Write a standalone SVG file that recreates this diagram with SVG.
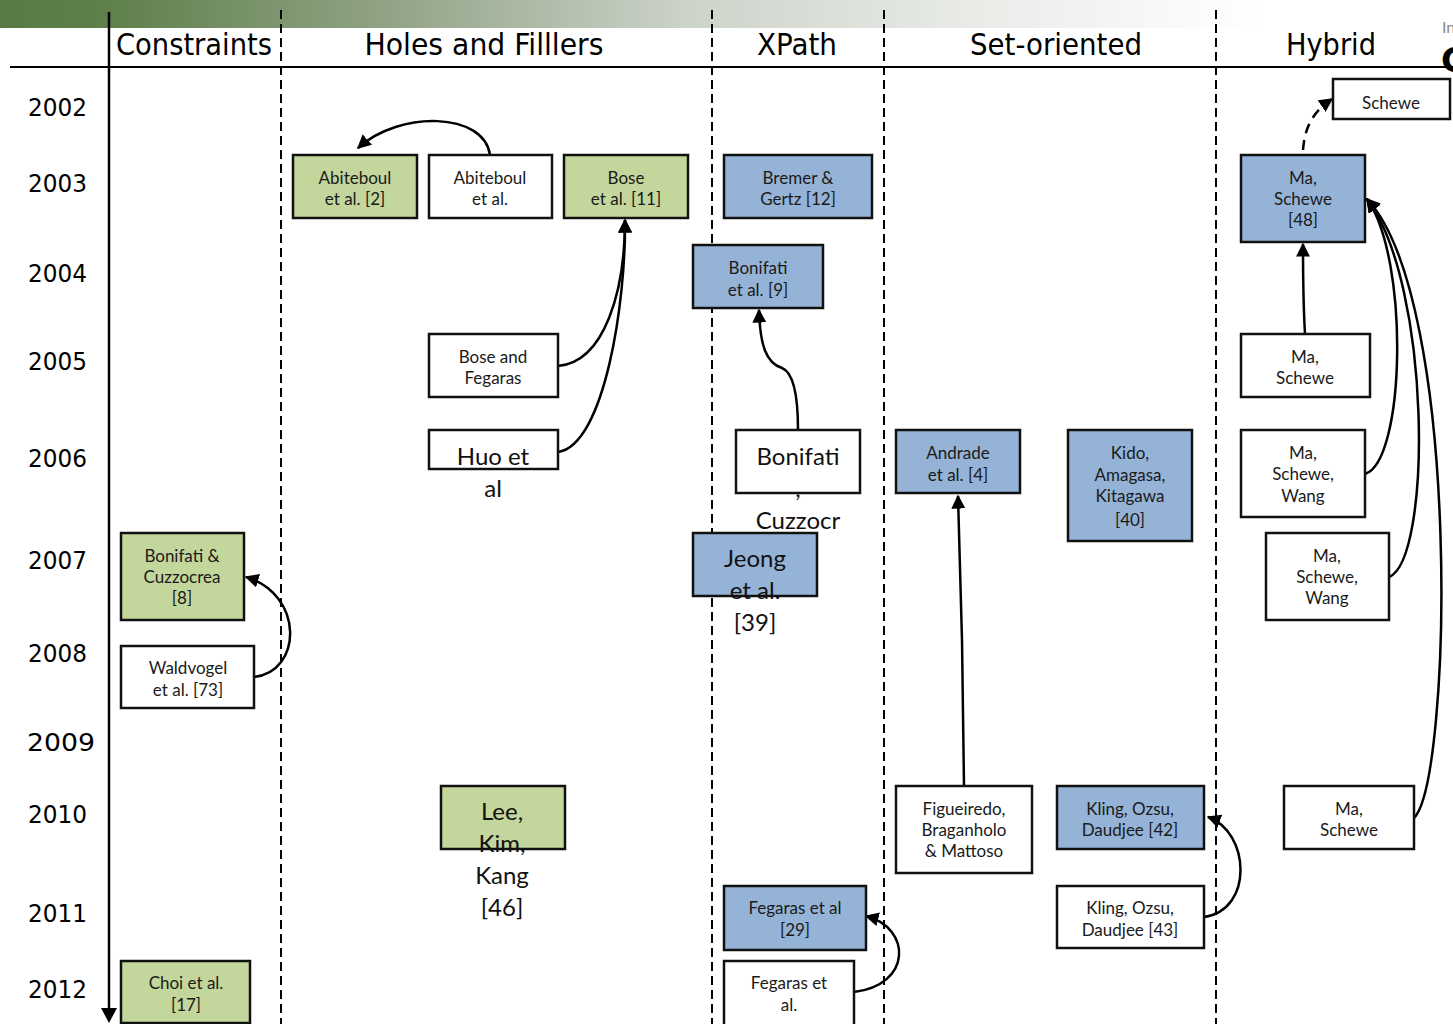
<svg xmlns="http://www.w3.org/2000/svg" width="1453" height="1024" viewBox="0 0 1453 1024">
<defs>
<linearGradient id="bar" x1="0" y1="0" x2="1" y2="0">
<stop offset="0" stop-color="#587a42"/>
<stop offset="0.08" stop-color="#5e7f4a"/>
<stop offset="0.3" stop-color="#8fa284"/>
<stop offset="0.55" stop-color="#cdd4ca"/>
<stop offset="0.8" stop-color="#eceeeb"/>
<stop offset="1" stop-color="#ffffff"/>
</linearGradient>
<marker id="ah" viewBox="0 0 10 10" refX="9" refY="5" markerWidth="14" markerHeight="14" markerUnits="userSpaceOnUse" orient="auto">
<path d="M0,0 L10,5 L0,10 z" fill="#000"/>
</marker>
</defs>
<style>
.box{stroke:#111;stroke-width:2.5}
.g{fill:#c3d69b}
.b{fill:#95b3d7}
.w{fill:#ffffff}
.t{font-family:Lato,"Liberation Sans",sans-serif;font-size:17px;fill:#1a1a1a;text-anchor:middle}
.L{font-family:Lato,"Liberation Sans",sans-serif;font-size:24px;fill:#111;text-anchor:middle}
.hd{font-family:"DejaVu Sans Condensed","DejaVu Sans",sans-serif;font-size:30px;fill:#000;text-anchor:middle}
.yr{font-family:"DejaVu Sans","Liberation Sans",sans-serif;font-size:24px;fill:#000}
.dash{stroke:#000;stroke-width:2;stroke-dasharray:9,5;fill:none}
.c{fill:none;stroke:#000;stroke-width:2.5;marker-end:url(#ah)}
</style>
<rect width="1453" height="1024" fill="#fff"/>
<rect x="0" y="0" width="1260" height="28" fill="url(#bar)"/>

<g id="grid">
<line x1="10" y1="67" x2="1453" y2="67" stroke="#000" stroke-width="2"/>
<line x1="281" y1="10" x2="281" y2="1024" class="dash"/>
<line x1="712" y1="10" x2="712" y2="1024" class="dash"/>
<line x1="884" y1="10" x2="884" y2="1024" class="dash"/>
<line x1="1216" y1="10" x2="1216" y2="1024" class="dash"/>
<line x1="109" y1="12" x2="109" y2="1010" stroke="#000" stroke-width="2.5"/>
<path d="M101,1008 L117,1008 L109,1023 z" fill="#000"/>
</g>

<g id="headers">
<text class="hd" x="194" y="55" textLength="156" lengthAdjust="spacingAndGlyphs">Constraints</text>
<text class="hd" x="484" y="55" textLength="239" lengthAdjust="spacingAndGlyphs">Holes and Filllers</text>
<text class="hd" x="797" y="55" textLength="80" lengthAdjust="spacingAndGlyphs">XPath</text>
<text class="hd" x="1056" y="55" textLength="172" lengthAdjust="spacingAndGlyphs">Set-oriented</text>
<text class="hd" x="1331" y="55" textLength="90" lengthAdjust="spacingAndGlyphs">Hybrid</text>
<text x="1442" y="33" font-family="Lato,'Liberation Sans',sans-serif" font-size="16" fill="#8a8a8a">In</text>
<text x="1441" y="72" font-family="'DejaVu Sans',sans-serif" font-size="34" font-weight="bold" fill="#000">C</text>
</g>

<g id="years">
<text class="yr" x="28" y="116" textLength="59" lengthAdjust="spacingAndGlyphs">2002</text>
<text class="yr" x="28" y="192" textLength="59" lengthAdjust="spacingAndGlyphs">2003</text>
<text class="yr" x="28" y="282" textLength="59" lengthAdjust="spacingAndGlyphs">2004</text>
<text class="yr" x="28" y="370" textLength="59" lengthAdjust="spacingAndGlyphs">2005</text>
<text class="yr" x="28" y="467" textLength="59" lengthAdjust="spacingAndGlyphs">2006</text>
<text class="yr" x="28" y="569" textLength="59" lengthAdjust="spacingAndGlyphs">2007</text>
<text class="yr" x="28" y="662" textLength="59" lengthAdjust="spacingAndGlyphs">2008</text>
<text class="yr" x="27" y="751" font-size="28" textLength="68" lengthAdjust="spacingAndGlyphs">2009</text>
<text class="yr" x="28" y="823" textLength="59" lengthAdjust="spacingAndGlyphs">2010</text>
<text class="yr" x="28" y="922" textLength="59" lengthAdjust="spacingAndGlyphs">2011</text>
<text class="yr" x="28" y="998" textLength="59" lengthAdjust="spacingAndGlyphs">2012</text>
</g>

<g id="connectors">
<path class="c" d="M490,155 C484,112 400,110 358,148"/>
<path class="c" d="M558,366 C605,362 625,290 625,220"/>
<path class="c" d="M558,452 C605,445 626,300 625,220"/>
<path class="c" d="M798,430 C798,392 792,372 782,368 C766,363 760,345 759,310"/>
<path class="c" d="M964,786 L962,640 L958,496"/>
<path class="c" d="M254,677 C302,672 305,595 246,577"/>
<path class="c" d="M854,992 C912,985 912,928 866,916"/>
<path class="c" d="M1204,917 C1254,910 1250,832 1208,817"/>
<path class="c" d="M1305,334 C1303,300 1303,280 1303,244"/>
<path class="c" d="M1303,150 C1305,126 1313,112 1332,99" stroke-dasharray="10,7"/>
<path class="c" d="M1365,474 C1405,462 1410,260 1367,199"/>
<path class="c" d="M1389,577 C1432,560 1432,285 1367,199"/>
<path class="c" d="M1414,818 C1452,780 1462,300 1367,199"/>
</g>

<g id="n_bonifati_cuzzocrea"><rect class="box g" x="121" y="533" width="123" height="87"/>
<text class="t" x="182" y="562">Bonifati &amp;</text><text class="t" x="182" y="583">Cuzzocrea</text><text class="t" x="182" y="604">[8]</text></g>
<g id="n_waldvogel"><rect class="box w" x="121" y="646" width="133" height="62"/>
<text class="t" x="188" y="674">Waldvogel</text><text class="t" x="188" y="696">et al. [73]</text></g>
<g id="n_choi"><rect class="box g" x="121" y="961" width="129" height="62"/>
<text class="t" x="186" y="989">Choi et al.</text><text class="t" x="186" y="1011">[17]</text></g>

<g id="n_abiteboul2"><rect class="box g" x="293" y="155" width="124" height="63"/>
<text class="t" x="355" y="184">Abiteboul</text><text class="t" x="355" y="205">et al. [2]</text></g>
<g id="n_abiteboul"><rect class="box w" x="429" y="155" width="123" height="63"/>
<text class="t" x="490" y="184">Abiteboul</text><text class="t" x="490" y="205">et al.</text></g>
<g id="n_bose11"><rect class="box g" x="564" y="155" width="124" height="63"/>
<text class="t" x="626" y="184">Bose</text><text class="t" x="626" y="205">et al. [11]</text></g>
<g id="n_bose_fegaras"><rect class="box w" x="429" y="334" width="129" height="63"/>
<text class="t" x="493" y="363">Bose and</text><text class="t" x="493" y="384">Fegaras</text></g>
<g id="n_huo"><rect class="box w" x="429" y="430" width="129" height="39"/>
<text class="L" x="493" y="465">Huo et</text><text class="L" x="493" y="497">al</text></g>
<g id="n_lee"><rect class="box g" x="441" y="786" width="124" height="63"/>
<text class="L" x="502" y="820">Lee,</text><text class="L" x="502" y="852">Kim,</text><text class="L" x="502" y="884">Kang</text><text class="L" x="502" y="916">[46]</text></g>

<g id="n_bremer"><rect class="box b" x="724" y="155" width="148" height="63"/>
<text class="t" x="798" y="184">Bremer &amp;</text><text class="t" x="798" y="205">Gertz [12]</text></g>
<g id="n_bonifati9"><rect class="box b" x="693" y="245" width="130" height="63"/>
<text class="t" x="758" y="274">Bonifati</text><text class="t" x="758" y="296">et al. [9]</text></g>
<g id="n_bonifati"><rect class="box w" x="736" y="430" width="124" height="63"/>
<text class="L" x="798" y="465">Bonifati</text><text class="L" x="798" y="497">,</text><text class="L" x="798" y="529">Cuzzocr</text></g>
<g id="n_jeong"><rect class="box b" x="693" y="533" width="124" height="63"/>
<text class="L" x="755" y="567">Jeong</text><text class="L" x="755" y="599">et al.</text><text class="L" x="755" y="631">[39]</text></g>
<g id="n_fegaras29"><rect class="box b" x="724" y="886" width="142" height="64"/>
<text class="t" x="795" y="914">Fegaras et al</text><text class="t" x="795" y="936">[29]</text></g>
<g id="n_fegaras"><rect class="box w" x="724" y="961" width="130" height="66"/>
<text class="t" x="789" y="989">Fegaras et</text><text class="t" x="789" y="1011">al.</text></g>

<g id="n_andrade"><rect class="box b" x="896" y="430" width="124" height="63"/>
<text class="t" x="958" y="459">Andrade</text><text class="t" x="958" y="481">et al. [4]</text></g>
<g id="n_kido"><rect class="box b" x="1068" y="430" width="124" height="111"/>
<text class="t" x="1130" y="459">Kido,</text><text class="t" x="1130" y="481">Amagasa,</text><text class="t" x="1130" y="502">Kitagawa</text><text class="t" x="1130" y="526">[40]</text></g>
<g id="n_figueiredo"><rect class="box w" x="896" y="786" width="136" height="87"/>
<text class="t" x="964" y="815">Figueiredo,</text><text class="t" x="964" y="836">Braganholo</text><text class="t" x="964" y="857">&amp; Mattoso</text></g>
<g id="n_kling42"><rect class="box b" x="1057" y="786" width="147" height="63"/>
<text class="t" x="1130" y="815">Kling, Ozsu,</text><text class="t" x="1130" y="836">Daudjee [42]</text></g>
<g id="n_kling43"><rect class="box w" x="1057" y="886" width="147" height="62"/>
<text class="t" x="1130" y="914">Kling, Ozsu,</text><text class="t" x="1130" y="936">Daudjee [43]</text></g>

<g id="n_schewe"><rect class="box w" x="1333" y="79" width="117" height="40"/>
<text class="t" x="1391" y="109">Schewe</text></g>
<g id="n_ma_schewe48"><rect class="box b" x="1241" y="155" width="124" height="87"/>
<text class="t" x="1303" y="184">Ma,</text><text class="t" x="1303" y="205">Schewe</text><text class="t" x="1303" y="226">[48]</text></g>
<g id="n_ma_schewe2005"><rect class="box w" x="1241" y="334" width="129" height="63"/>
<text class="t" x="1305" y="363">Ma,</text><text class="t" x="1305" y="384">Schewe</text></g>
<g id="n_msw2006"><rect class="box w" x="1241" y="430" width="124" height="87"/>
<text class="t" x="1303" y="459">Ma,</text><text class="t" x="1303" y="480">Schewe,</text><text class="t" x="1303" y="502">Wang</text></g>
<g id="n_msw2007"><rect class="box w" x="1266" y="533" width="123" height="87"/>
<text class="t" x="1327" y="562">Ma,</text><text class="t" x="1327" y="583">Schewe,</text><text class="t" x="1327" y="604">Wang</text></g>
<g id="n_ma_schewe2010"><rect class="box w" x="1284" y="786" width="130" height="63"/>
<text class="t" x="1349" y="815">Ma,</text><text class="t" x="1349" y="836">Schewe</text></g>
</svg>
